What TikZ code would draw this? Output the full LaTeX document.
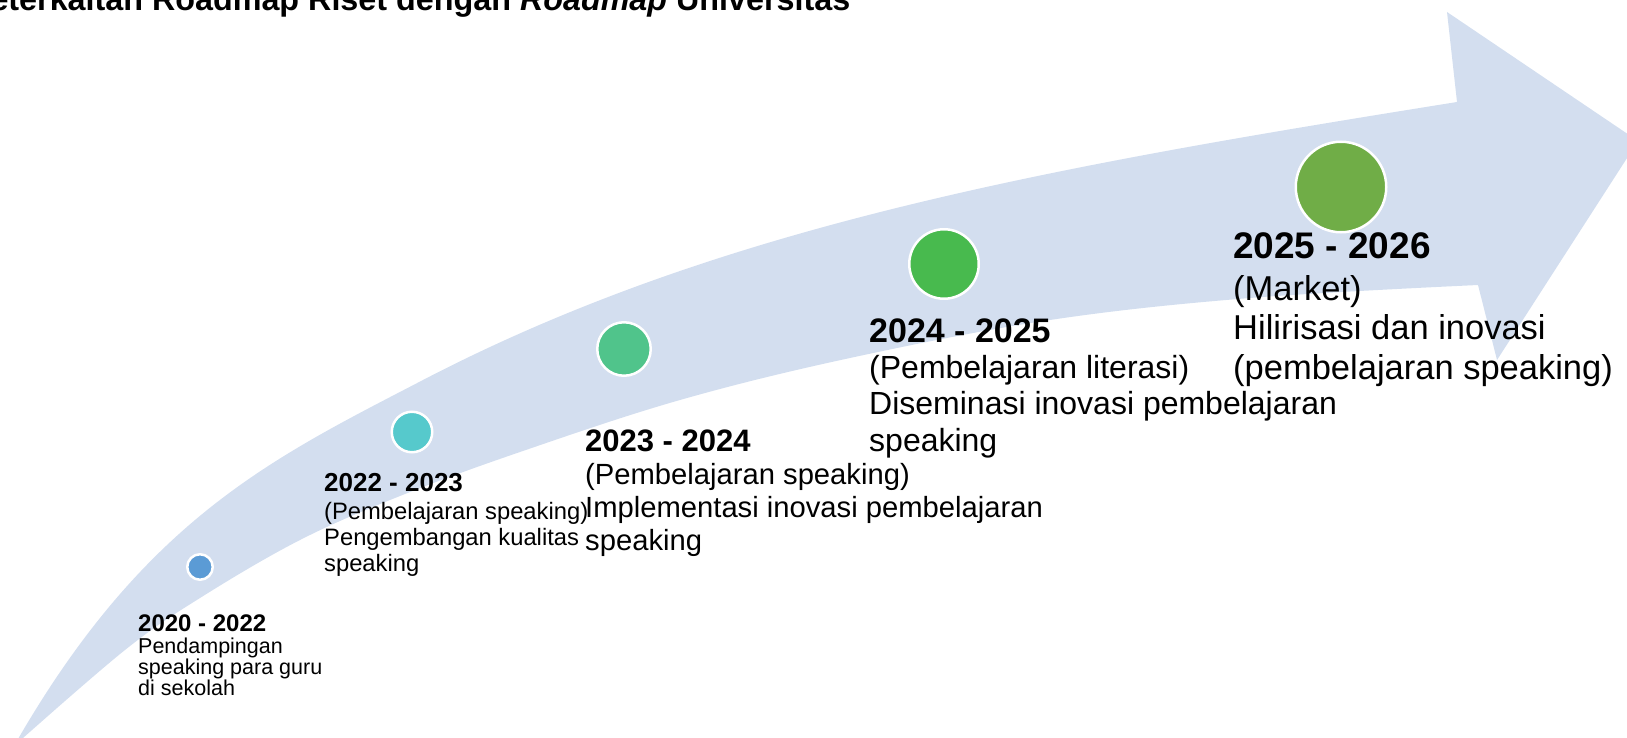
\documentclass[tikz,border=0pt]{standalone}
\usepackage{fontspec}
\setmainfont{Liberation Sans}
\definecolor{bandc}{HTML}{D3DEEF}
\definecolor{c1}{HTML}{5B9BD5}
\definecolor{c2}{HTML}{56C9CC}
\definecolor{c3}{HTML}{50C48B}
\definecolor{c4}{HTML}{48BA4E}
\definecolor{c5}{HTML}{70AD47}
\newcommand{\tightls}{\lineskiplimit=-100pt\relax}
\begin{document}
\begin{tikzpicture}[x=1pt,y=-1pt,
  dot/.style={circle,draw=white,line width=2.5pt,inner sep=0pt,minimum size=#1},
  yr/.style={anchor=base west,inner sep=0pt,font=\bfseries\fontsize{#1}{#1}\selectfont},
  body/.style 2 args={anchor=base west,inner sep=0pt,align=left,font={\fontsize{#1}{#2}\selectfont\tightls}}]
\useasboundingbox (0,0) rectangle (1627,738);
\clip (0,0) rectangle (1627,738);
% curved arrow band
\fill[bandc] (14,746) .. controls (144,518.5) and (273,458) .. (423,380)
  .. controls (723,224) and (1057,166) .. (1457,102)
  -- (1447,12) -- (1638,141) -- (1497,360) -- (1478,285)
  -- plot[smooth,tension=0.6] coordinates {(1478,285) (1250,298) (1050,320) (850,358) (680,400) (520,452) (400,496) (300,540) (200,598) (125,650) (14,746)}
  -- cycle;
% title (partly cut off)
\node[anchor=base west,inner sep=0pt,font=\bfseries\fontsize{32.3}{32.3}\selectfont] (title) at (-33,11) {Keterkaitan Roadmap Riset dengan \textit{Roadmap} Universitas};
% milestones
\node[dot=25.5pt,fill=c1] (d1) at (200,567) {};
\node[dot=40.5pt,fill=c2] (d2) at (412,432) {};
\node[dot=53.5pt,fill=c3] (d3) at (624,349) {};
\node[dot=69.5pt,fill=c4] (d4) at (944,264) {};
\node[dot=90.5pt,fill=c5] (d5) at (1341,187) {};
% texts (body nodes anchored at the baseline of their last line)
\node[yr=24] (y1) at (138,631) {2020 - 2022};
\node[body={21.5}{21}] (b1) at (138,695.5) {Pendampingan\\speaking para guru\\di sekolah};
\node[yr=26] (y2) at (324,491) {2022 - 2023};
\node[body={23.75}{26}] (b2) at (324,571) {(Pembelajaran speaking)\\Pengembangan kualitas\\speaking};
\node[yr=31] (y3) at (585,451) {2023 - 2024};
\node[body={29.2}{33}] (b3) at (585,550) {(Pembelajaran speaking)\\Implementasi inovasi pembelajaran\\speaking};
\node[yr=34] (y4) at (869,342) {2024 - 2025};
\node[body={32}{36.5}] (b4) at (869,451) {(Pembelajaran literasi)\\Diseminasi inovasi pembelajaran\\speaking};
\node[yr=37] (y5) at (1233,258) {2025 - 2026};
\node[body={34.5}{39.5}] (b5) at (1233,379) {(Market)\\Hilirisasi dan inovasi\\(pembelajaran speaking)};
\end{tikzpicture}
\end{document}
